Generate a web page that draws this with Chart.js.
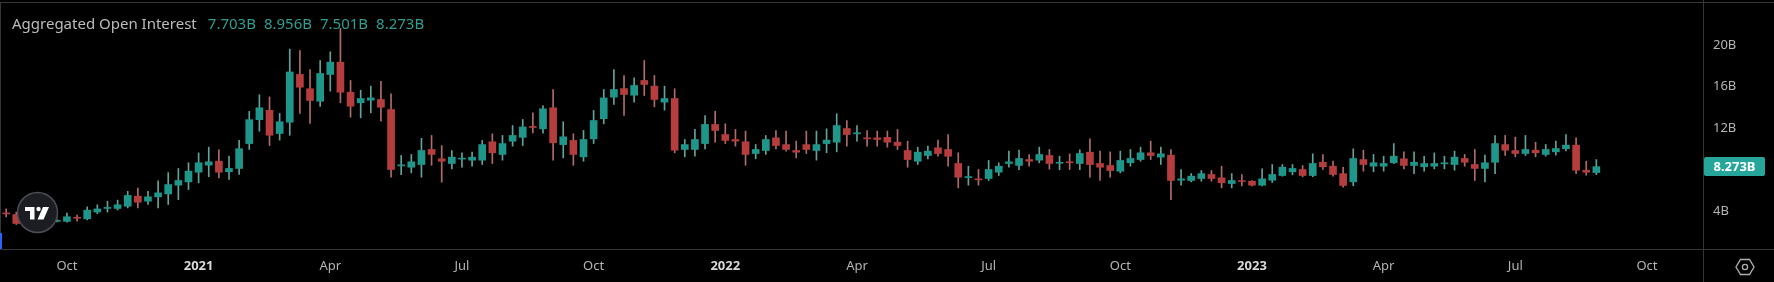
<!DOCTYPE html>
<html>
<head>
<meta charset="utf-8">
<title>Aggregated Open Interest</title>
<script src="https://cdn.jsdelivr.net/npm/chart.js@4.4.0/dist/chart.umd.min.js"></script>
<style>
  html, body { margin: 0; padding: 0; background: #000; }
  #wrap { position: relative; width: 1774px; height: 282px; overflow: hidden; background: #000; }
  #legend { position: absolute; left: 12px; top: 13px; font: 15px "Noto Sans", sans-serif; color: #bcbcbc; white-space: nowrap; }
  #legend .v { color: #2f9e90; margin-left: 8px; }
  #legend .v:first-child { margin-left: 11px; }
  #lastPrice { position: absolute; left: 1704px; width: 61px; height: 19px; line-height: 19px; background: #26a69a;
               color: #fff; font: bold 13px "Noto Sans", sans-serif; text-align: center; border-radius: 2px; }
  #tvlogo { position: absolute; left: 16px; top: 191px; }
  #gear { position: absolute; left: 1735px; top: 257px; }
  #marker { position: absolute; left: 0; top: 233px; width: 2px; height: 16px; background: #2962ff; }
</style>
</head>
<body>
<div id="wrap">
  <canvas id="chart" width="1774" height="282"></canvas>
  <div id="legend">Aggregated Open Interest<span class="v" style="margin-left:11px">7.703B</span><span class="v">8.956B</span><span class="v">7.501B</span><span class="v">8.273B</span></div>
  <div id="lastPrice">8.273B</div>
  <div id="marker"></div>
  <svg id="tvlogo" width="43" height="43" viewBox="0 0 43 43">
    <circle cx="21.5" cy="21.5" r="20" fill="#1b1d22" stroke="#4a4d55" stroke-width="1.5"/>
    <path d="M9 16 H18.5 V28.5 H14 V20 H9 Z" fill="#fff"/>
    <circle cx="22.5" cy="18" r="2.2" fill="#fff"/>
    <path d="M27 16 H33 L27.5 28.5 H21.5 Z" fill="#fff"/>
  </svg>
  <svg id="gear" width="20" height="20" viewBox="0 0 20 20">
    <path d="M5.5 2.5 H14.5 L19 10 L14.5 17.5 H5.5 L1 10 Z" fill="none" stroke="#b0b0b0" stroke-width="1.3"/>
    <circle cx="10" cy="10" r="2.6" fill="none" stroke="#b0b0b0" stroke-width="1.3"/>
  </svg>
</div>
<script>
// weekly candles, first week starts 2020-08-24
const open = [3.80, 3.66, 2.80, 2.95, 3.05, 3.00, 3.00, 3.36, 3.25, 3.90,
  4.25, 4.25, 4.46, 5.43, 4.95, 5.37, 5.65, 6.49, 6.81, 7.74,
  8.42, 8.80, 7.78, 8.10, 10.50, 12.80, 13.70, 11.47, 12.56, 17.16,
  15.78, 14.58, 17.16, 18.34, 15.45, 14.43, 14.68, 14.75, 13.78, 8.35,
  8.22, 8.48, 9.93, 9.03, 8.58, 9.00, 8.90, 8.90, 10.67, 9.45,
  10.73, 11.10, 12.15, 11.92, 13.95, 10.40, 10.80, 9.22, 10.96, 12.90,
  14.97, 15.80, 15.16, 16.58, 16.03, 14.49, 14.84, 9.93, 9.93, 10.50,
  12.34, 11.37, 10.89, 10.67, 9.54, 9.83, 11.05, 10.40, 9.83, 10.40,
  9.83, 10.50, 10.63, 11.95, 11.44, 11.05, 11.05, 11.10, 10.63, 9.83,
  8.80, 9.35, 10.09, 9.93, 8.58, 7.22, 7.08, 7.13, 7.74, 8.58,
  8.39, 8.96, 8.90, 9.35, 8.60, 8.74, 8.58, 9.67, 8.58, 8.39,
  7.84, 8.65, 8.96, 9.61, 9.19, 9.38, 6.97, 6.94, 7.13, 7.52,
  7.20, 6.65, 6.90, 6.87, 6.49, 6.97, 7.42, 7.78, 8.00, 7.42,
  8.70, 8.32, 7.60, 6.81, 8.96, 8.32, 8.32, 8.65, 9.03, 8.39,
  8.26, 8.32, 8.55, 8.48, 9.06, 8.48, 8.10, 8.70, 10.40, 9.83,
  9.54, 9.86, 9.45, 9.70, 10.00, 10.35, 7.93, 7.703];
const high = [4.21, 3.90, 3.10, 3.20, 3.30, 3.20, 3.80, 3.60, 4.40, 4.60,
  4.95, 5.05, 5.90, 6.20, 5.90, 6.90, 7.70, 8.10, 8.65, 9.60,
  10.15, 9.90, 9.30, 10.80, 13.60, 15.20, 15.00, 13.40, 19.60, 19.47,
  17.64, 18.50, 19.34, 21.60, 16.58, 15.64, 16.03, 16.50, 15.30, 9.35,
  9.45, 11.00, 11.28, 10.30, 9.83, 9.61, 9.67, 10.80, 11.44, 11.28,
  12.24, 12.82, 13.46, 14.17, 15.71, 12.60, 11.44, 11.76, 13.69, 15.71,
  17.64, 17.06, 16.84, 18.50, 17.06, 16.03, 15.78, 10.89, 11.86, 13.20,
  13.62, 12.40, 11.86, 11.70, 10.41, 11.28, 11.76, 11.70, 10.73, 11.70,
  11.70, 11.92, 13.37, 12.72, 12.24, 11.76, 11.70, 11.70, 11.86, 10.73,
  10.15, 10.25, 10.83, 11.37, 9.61, 8.32, 8.00, 8.87, 8.64, 9.77,
  9.86, 9.45, 10.15, 9.93, 9.28, 9.51, 9.90, 10.96, 9.77, 9.70,
  9.77, 9.93, 10.15, 10.73, 10.15, 9.93, 7.99, 7.61, 7.90, 7.90,
  8.32, 7.61, 7.52, 6.94, 8.06, 8.48, 8.48, 8.48, 8.38, 9.51,
  9.45, 8.80, 8.20, 9.99, 9.86, 9.45, 9.28, 10.50, 9.70, 9.70,
  9.28, 9.60, 9.28, 9.77, 9.45, 9.93, 9.38, 11.28, 11.28, 11.12,
  11.28, 10.63, 10.41, 10.73, 11.37, 11.05, 8.80, 8.956];
const low = [3.44, 2.70, 2.60, 2.80, 2.90, 2.95, 2.92, 3.02, 3.15, 3.75,
  3.90, 4.10, 4.30, 4.30, 4.63, 4.30, 4.63, 5.10, 6.07, 6.72,
  7.30, 7.20, 7.04, 7.52, 9.93, 11.69, 10.31, 10.83, 11.30, 13.40,
  12.43, 14.07, 15.55, 14.43, 13.04, 12.98, 13.46, 12.65, 7.26, 7.50,
  7.68, 7.26, 8.41, 6.78, 8.06, 8.22, 8.32, 8.48, 8.58, 8.90,
  10.25, 10.31, 11.53, 11.50, 8.90, 9.12, 8.41, 8.80, 10.50, 12.40,
  14.27, 13.20, 14.49, 15.13, 14.04, 13.72, 9.61, 9.22, 9.28, 9.99,
  10.63, 10.50, 10.25, 8.41, 9.03, 9.45, 9.99, 9.77, 9.12, 9.54,
  8.90, 9.61, 9.70, 10.25, 10.73, 10.25, 10.25, 10.15, 9.93, 8.22,
  8.48, 9.03, 9.28, 8.32, 6.23, 6.49, 6.49, 6.94, 7.42, 8.22,
  7.99, 8.32, 8.64, 8.03, 7.97, 8.00, 7.99, 7.26, 6.94, 7.26,
  7.68, 8.32, 8.80, 8.96, 8.48, 5.10, 6.50, 6.81, 6.87, 6.87,
  6.23, 6.23, 6.43, 6.43, 6.43, 6.75, 7.36, 7.49, 7.30, 7.30,
  8.00, 7.36, 6.29, 6.43, 7.84, 7.78, 7.84, 8.58, 8.06, 7.61,
  7.84, 8.06, 8.06, 7.93, 8.32, 6.94, 6.81, 7.61, 9.35, 9.22,
  9.35, 9.22, 9.28, 9.38, 9.80, 7.60, 7.45, 7.501];
const close = [3.72, 2.80, 2.95, 3.05, 3.00, 3.08, 3.45, 3.30, 4.08, 4.20,
  4.32, 4.60, 5.50, 4.85, 5.37, 5.75, 6.55, 6.94, 7.84, 8.65,
  8.74, 7.74, 8.10, 10.00, 12.80, 13.95, 11.30, 12.60, 17.40, 15.93,
  14.65, 17.25, 18.34, 15.45, 14.10, 14.84, 14.90, 14.00, 8.00, 8.42,
  8.74, 9.83, 9.45, 8.80, 9.19, 9.06, 9.19, 10.40, 9.61, 10.50,
  11.28, 12.10, 12.05, 13.85, 10.57, 11.15, 9.45, 10.89, 12.72, 14.90,
  15.71, 15.23, 16.10, 16.19, 14.75, 14.84, 9.86, 10.40, 10.89, 12.34,
  11.76, 10.80, 10.73, 9.45, 9.93, 10.89, 10.31, 9.93, 9.67, 9.93,
  10.40, 10.83, 12.24, 11.37, 11.50, 10.95, 10.89, 10.63, 10.31, 8.96,
  9.67, 9.77, 9.54, 9.28, 7.26, 7.30, 7.00, 8.00, 8.32, 8.74,
  9.06, 8.80, 9.45, 8.58, 8.68, 8.65, 9.54, 8.48, 8.22, 7.90,
  8.87, 9.06, 9.61, 9.35, 9.51, 6.94, 7.10, 7.36, 7.60, 7.13,
  6.72, 6.94, 6.84, 6.49, 7.10, 7.52, 8.22, 8.10, 7.42, 8.58,
  8.26, 7.52, 6.46, 9.06, 8.48, 8.65, 8.58, 9.28, 8.39, 8.70,
  8.58, 8.58, 8.60, 9.19, 8.70, 8.10, 8.65, 10.50, 9.86, 9.54,
  9.93, 9.61, 9.93, 10.02, 10.35, 7.93, 7.74, 8.273];

// time axis: week index of the first bar of each labelled month
const tickIndex = [6, 19, 32, 45, 58, 71, 84, 97, 110, 123, 136, 149, 162];
const tickLabels = ['Oct', '2021', 'Apr', 'Jul', 'Oct', '2022', 'Apr', 'Jul', 'Oct', '2023', 'Apr', 'Jul', 'Oct'];
const yTicks = [4, 12, 16, 20];

const UP = '#1f968a', DOWN = '#b53d3d';
const UP_WICK = '#5fa39a', DOWN_WICK = '#b06a6a';
const FONT = '"Noto Sans", sans-serif';

const isUp = open.map((o, i) => close[i] >= o);

const framePlugin = {
  id: 'frame',
  afterDraw(chart) {
    const { ctx, chartArea } = chart;
    ctx.save();
    ctx.strokeStyle = '#363636';
    ctx.lineWidth = 1;
    ctx.beginPath();
    ctx.moveTo(0, 2.5); ctx.lineTo(chart.width, 2.5);
    ctx.moveTo(0, Math.round(chartArea.bottom) + 0.5); ctx.lineTo(chart.width, Math.round(chartArea.bottom) + 0.5);
    ctx.moveTo(Math.round(chartArea.right) + 0.5, 0); ctx.lineTo(Math.round(chartArea.right) + 0.5, chart.height);
    ctx.moveTo(0.5, 2.5); ctx.lineTo(0.5, chartArea.bottom);
    ctx.stroke();
    ctx.restore();
  }
};

const chart = new Chart(document.getElementById('chart'), {
  type: 'bar',
  data: {
    datasets: [
      {
        label: 'body',
        data: open.map((o, i) => ({ x: i, y: [o, close[i]] })),
        backgroundColor: isUp.map(u => u ? UP : DOWN),
        barThickness: 7,
        minBarLength: 1,
        grouped: false,
        order: 0,
      },
      {
        label: 'wick',
        data: open.map((o, i) => ({ x: i, y: [low[i], high[i]] })),
        backgroundColor: isUp.map(u => u ? UP_WICK : DOWN_WICK),
        barThickness: 1,
        grouped: false,
        order: 1,
      },
    ],
  },
  options: {
    responsive: false,
    devicePixelRatio: 1,
    animation: false,
    layout: { padding: { top: 2, left: 0, right: 0, bottom: 0 } },
    plugins: { legend: { display: false }, tooltip: { enabled: false } },
    scales: {
      x: {
        type: 'linear',
        offset: false,
        min: -0.61,
        max: 167.53,
        grid: { display: false, drawTicks: false },
        border: { display: false },
        afterBuildTicks: (scale) => { scale.ticks = tickIndex.map(v => ({ value: v })); },
        afterFit: (scale) => { scale.height = 33; scale.paddingLeft = 0; scale.paddingRight = 0; },
        ticks: {
          autoSkip: false,
          maxRotation: 0,
          padding: 9,
          callback: (v, i) => tickLabels[i],
          color: (c) => /^\d{4}$/.test(tickLabels[c.index]) ? '#d8d8d8' : '#b4b4b4',
          font: (c) => ({ family: FONT, size: 13, weight: /^\d{4}$/.test(tickLabels[c.index]) ? 'bold' : 'normal' }),
        },
      },
      y: {
        type: 'linear',
        position: 'right',
        min: 0.34,
        max: 24.14,
        grid: { display: false, drawTicks: false },
        border: { display: false },
        afterBuildTicks: (scale) => { scale.ticks = yTicks.map(v => ({ value: v })); },
        afterFit: (scale) => { scale.width = 71; scale.paddingTop = 0; scale.paddingBottom = 0; },
        ticks: {
          padding: 10,
          color: '#b4b4b4',
          font: { family: FONT, size: 13 },
          callback: (v) => v + 'B',
        },
      },
    },
  },
  plugins: [framePlugin],
});

// place the last value label on the price scale
const lastY = chart.scales.y.getPixelForValue(close[close.length - 1]);
document.getElementById('lastPrice').style.top = (lastY - 9.5) + 'px';
</script>
</body>
</html>
